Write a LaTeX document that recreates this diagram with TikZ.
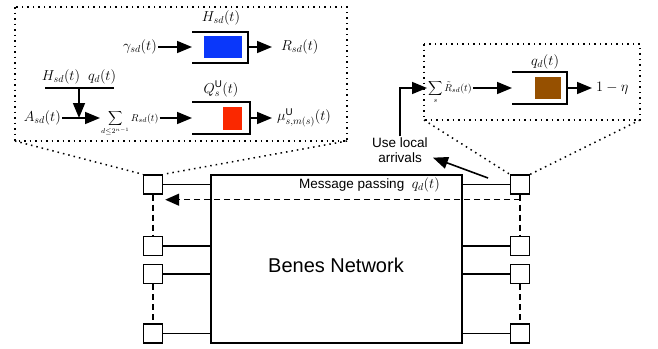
\documentclass[tikz,border=0pt]{standalone}
\usepackage{fontspec}
\setsansfont{Liberation Sans}
\usetikzlibrary{arrows.meta,calc}

\definecolor{qblue}{RGB}{10,55,250}
\definecolor{qred}{RGB}{250,40,0}
\definecolor{qbrown}{RGB}{150,80,0}

\tikzset{
  mathlbl/.style={font=\fontsize{14}{16}\selectfont, inner sep=1pt},
  sumlbl/.style={font=\fontsize{10}{12}\selectfont, inner sep=1pt},
  txtlbl/.style={font=\sffamily\fontsize{13.5}{15}\selectfont, inner sep=1pt, align=center},
  port/.style={draw, line width=1.4pt, minimum size=19pt, inner sep=0pt},
  flow/.style={line width=1.6pt, -{Triangle[length=15pt,width=12pt]}},
  queue/.style={line width=1.6pt},
  zoomline/.style={line width=1.5pt, dash pattern=on 1.5pt off 4pt},
  link/.style={line width=1.2pt},
  msgline/.style={line width=1.4pt, dash pattern=on 6pt off 4pt},
}

\begin{document}
\begin{tikzpicture}[x=1pt, y=-1pt]
    \useasboundingbox (0,0) rectangle (658,348);

    % --- Benes network with its ports ---
    \draw[line width=1.4pt] (211,175) rectangle (462,343);
    \node[font=\sffamily\fontsize{20}{24}\selectfont] (benes) at (336,265) {Benes Network};
    \coordinate (B_W) at (211,265);
    \coordinate (B_E) at (462,265);

    \node[port] (L1) at (153,184.5) {};
    \node[port] (L2) at (153,246) {};
    \node[port] (L3) at (153,274) {};
    \node[port] (L4) at (153,333.5) {};
    \node[port] (R1) at (520,184.5) {};
    \node[port] (R2) at (520,246) {};
    \node[port] (R3) at (520,274) {};
    \node[port] (R4) at (520,333.5) {};

    \foreach \i in {1,...,4} {
        \draw[link] (L\i.east) -- (L\i.east -| B_W);
        \draw[link] (R\i.west) -- (R\i.west -| B_E);
    }
    \draw[msgline] (L1.south) -- (L2.north);
    \draw[msgline] (L3.south) -- (L4.north);
    \draw[msgline] (R1.south) -- (R2.north);
    \draw[msgline] (R3.south) -- (R4.north);

    % message passing back to the left port
    \node[txtlbl, anchor=east] (msg) at (441,185) {Message passing~ \fontsize{14}{16}\selectfont$q_d(t)$};
    \draw[msgline, -{Triangle[length=14pt,width=12pt]}] ([yshift=-5pt]R1.south) -- ([yshift=-5pt,xshift=2pt]L1.south east);

    % --- left zoom: two queues ---
    \coordinate (ZL_nw) at (15,7);
    \coordinate (ZL_sw) at (15,141);
    \coordinate (ZL_se) at (347,141);
    \draw[zoomline] (ZL_nw) rectangle (ZL_se);
    \draw[zoomline] (ZL_sw) -- (L1.north west);
    \draw[zoomline] (ZL_se) -- (L1.north east);

    % upper queue H
    \draw[queue] (192,32) -- (248,32) -- (248,63) -- (192,63);
    \fill[qblue] (204,36) rectangle (242,58);
    \node[mathlbl] (Hlbl) at (221,18) {$H_{sd}(t)$};
    \node[mathlbl, anchor=east] (gam) at (158,47) {$\gamma_{sd}(t)$};
    \coordinate (H_in) at (192,47);
    \coordinate (H_out) at (248,47);
    \coordinate (H_tip) at (272,47);
    \draw[flow] (gam.east) -- (H_in);
    \draw[flow] (H_out) -- (H_tip);
    \node[mathlbl, anchor=west] (Rout) at (280,47) {$R_{sd}(t)$};

    % lower queue Q
    \draw[queue] (192,102) -- (250,102) -- (250,134) -- (192,134);
    \fill[qred] (223,107) rectangle (242,130);
    \node[mathlbl] (Qlbl) at (221,89) {$Q^{\mathsf{U}}_{s}(t)$};
    \node[mathlbl, anchor=east] (A) at (62,118) {$A_{sd}(t)$};
    \node[sumlbl, anchor=base west] (sumL) at (100,121) {$\displaystyle\sum_{d\le 2^{n-1}} R_{sd}(t)$};
    \coordinate (Q_in) at (192,118);
    \coordinate (Q_out) at (250,118);
    \coordinate (Q_tip) at (272,118);
    \draw[flow] (A.east) -- (A.east -| sumL.west);
    \draw[flow] (sumL.east |- A.east) -- (Q_in);
    \draw[flow] (Q_out) -- (Q_tip);
    \node[mathlbl, anchor=west] (mu) at (276,118) {$\mu^{\mathsf{U}}_{s,m(s)}(t)$};

    % H and q feed the sum
    \node[mathlbl] (Hq) at (79,77) {$H_{sd}(t)\;\; q_d(t)$};
    \coordinate (bar_w) at (45,88);
    \coordinate (bar_e) at (114,88);
    \coordinate (bar_m) at (79,88);
    \draw[queue] (bar_w) -- (bar_e);
    \draw[flow] (bar_m) -- (bar_m |- A.east);

    % --- right zoom: local queue ---
    \coordinate (ZR_nw) at (424,44);
    \coordinate (ZR_sw) at (424,120);
    \coordinate (ZR_se) at (640,120);
    \draw[zoomline] (ZR_nw) rectangle (ZR_se);
    \draw[zoomline] (ZR_sw) -- (R1.north west);
    \draw[zoomline] (ZR_se) -- (R1.north east);

    \draw[queue] (512,72) -- (567,72) -- (567,104) -- (512,104);
    \fill[qbrown] (535,77) rectangle (561,99);
    \node[mathlbl] (qlbl) at (545,62) {$q_d(t)$};
    \node[sumlbl, anchor=base west] (sumR) at (427,91) {$\displaystyle\sum_{s} \tilde{R}_{sd}(t)$};
    \coordinate (q_in) at (512,88);
    \coordinate (q_out) at (567,88);
    \coordinate (q_tip) at (592,88);
    \draw[flow] (sumR.east |- q_in) -- (q_in);
    \draw[flow] (q_out) -- (q_tip);
    \node[mathlbl, anchor=west] (eta) at (595,88) {$1-\eta$};

    % --- local arrivals ---
    \node[txtlbl] (loc) at (400,150) {Use local\\arrivals};
    \coordinate (loc_in) at (427,88);
    \draw[flow] (loc.north) |- (loc_in);
    \coordinate (loc_tail) at (488,178);
    \draw[flow] (loc_tail) -- ([xshift=4pt,yshift=6pt]loc.south east);

\end{tikzpicture}
\end{document}
